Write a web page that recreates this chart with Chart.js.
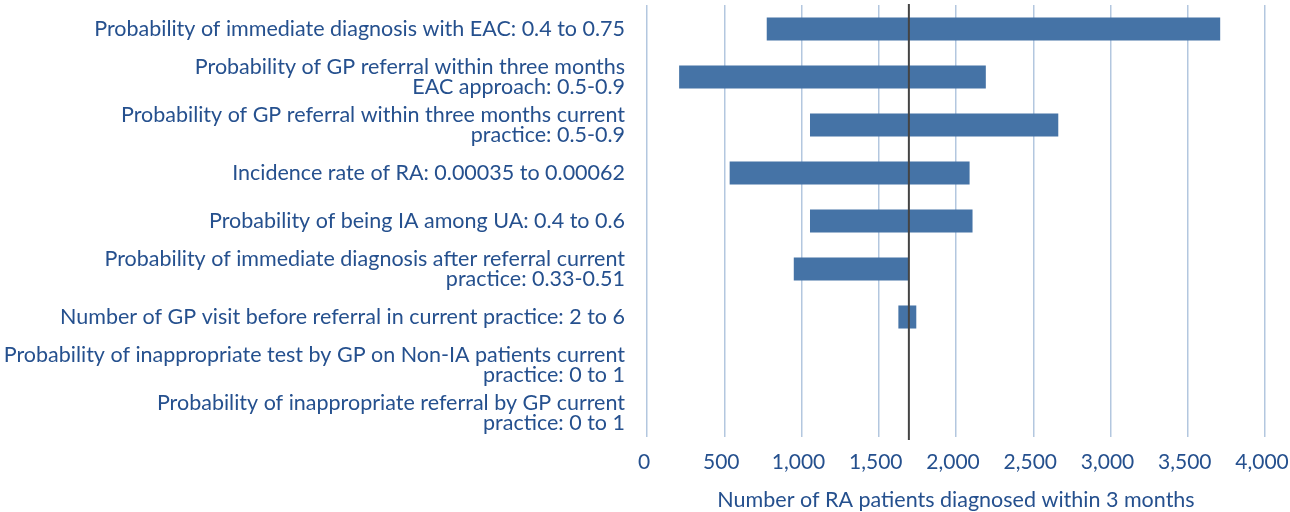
<!DOCTYPE html>
<html>
<head>
<meta charset="utf-8">
<script src="https://cdn.jsdelivr.net/npm/chart.js@4/dist/chart.umd.min.js"></script>
<style>
html,body{margin:0;padding:0;background:#fff;}
#wrap{width:1290px;height:512px;}
</style>
</head>
<body>
<div id="wrap"><canvas id="c" width="1290" height="512"></canvas></div>
<script>
const categories = [
  "Probability of immediate diagnosis with EAC: 0.4 to 0.75",
  ["Probability of GP referral within three months", "EAC approach: 0.5-0.9"],
  ["Probability of GP referral within three months current", "practice: 0.5-0.9"],
  "Incidence rate of RA: 0.00035 to 0.00062",
  "Probability of being IA among UA: 0.4 to 0.6",
  ["Probability of immediate diagnosis after referral current", "practice: 0.33-0.51"],
  "Number of GP visit before referral in current practice: 2 to 6",
  ["Probability of inappropriate test by GP on Non-IA patients current", "practice: 0 to 1"],
  ["Probability of inappropriate referral by GP current", "practice: 0 to 1"]
];
const lowValues  = [775, 208, 1055, 535, 1055, 950, 1627, 1695, 1695];
const highValues = [3710, 2193, 2662, 2088, 2107, 1695, 1743, 1695, 1695];
const baseValue = 1695;
const xTicks = [0, 500, 1000, 1500, 2000, 2500, 3000, 3500, 4000];
const xTitle = "Number of RA patients diagnosed within 3 months";

const TEXT = '#25508e';
const FONT = 'Lato';

const baseLine = {
  id: 'baseLine',
  afterDatasetsDraw(chart) {
    const x = chart.scales.x.getPixelForValue(baseValue);
    const ctx = chart.ctx, a = chart.chartArea;
    ctx.save();
    ctx.strokeStyle = '#444444';
    ctx.lineWidth = 2;
    ctx.beginPath();
    ctx.moveTo(x, a.top - 1);
    ctx.lineTo(x, a.bottom + 3);
    ctx.stroke();
    ctx.restore();
  }
};

new Chart(document.getElementById('c'), {
  type: 'bar',
  data: {
    labels: categories,
    datasets: [{
      data: lowValues.map((v, i) => [v, highValues[i]]),
      backgroundColor: '#4573a6',
      borderWidth: 0,
      barPercentage: 0.48,
      categoryPercentage: 1
    }]
  },
  options: {
    indexAxis: 'y',
    responsive: false,
    animation: false,
    layout: { padding: { top: 5, left: 0, right: 25, bottom: 0 } },
    plugins: { legend: { display: false }, tooltip: { enabled: false } },
    scales: {
      x: {
        min: 0, max: 4000,
        afterBuildTicks: (s) => { s.ticks = xTicks.map(v => ({ value: v })); },
        afterFit: (s) => { s.height = 75; s.paddingLeft = 0; s.paddingRight = 0; },
        grid: { color: '#b3c7df', lineWidth: 1.5, drawTicks: false },
        border: { display: false },
        ticks: {
          color: TEXT, padding: 13, maxRotation: 0, labelOffset: -3,
          font: { family: FONT, size: 21 },
          callback: (v) => v.toLocaleString('en-US')
        },
        title: {
          display: true, text: xTitle, color: TEXT,
          font: { family: FONT, size: 21.5, lineHeight: 1.0 }, padding: { top: 0, bottom: 1 }
        }
      },
      y: {
        afterFit: (s) => { s.width = 647; s.paddingTop = 0; s.paddingBottom = 0; },
        grid: { display: false, drawTicks: false },
        border: { display: false },
        ticks: {
          color: TEXT, padding: 22, autoSkip: false,
          font: { family: FONT, size: 21.5, lineHeight: '20px' }
        }
      }
    }
  },
  plugins: [baseLine]
});
</script>
</body>
</html>
